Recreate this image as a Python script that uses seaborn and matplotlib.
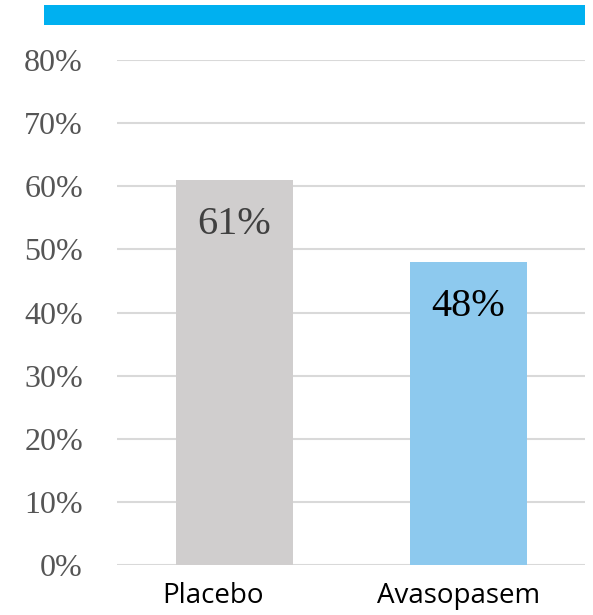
import matplotlib
matplotlib.use("Agg")
import matplotlib.pyplot as plt
from matplotlib.patches import Rectangle
from matplotlib.transforms import ScaledTranslation
import seaborn as sns
import pandas as pd

groups = ["Placebo", "Avasopasem"]
rates = [0.61, 0.48]
rate_labels = ["61%", "48%"]
label_colors = ["#404040", "#000000"]
bar_colors = ["#D0CECE", "#8DC9EE"]
yticks = [0.0, 0.1, 0.2, 0.3, 0.4, 0.5, 0.6, 0.7, 0.8]
ytick_labels = ["0%", "10%", "20%", "30%", "40%", "50%", "60%", "70%", "80%"]

df = pd.DataFrame({"group": groups, "rate": rates})

sns.set_style("white")
W, H = 593, 615
fig = plt.figure(figsize=(W / 100, H / 100), dpi=100)
ax = fig.add_axes([117 / W, (H - 565) / H, (585 - 117) / W, (565 - 60) / H])

sns.barplot(data=df, x="group", y="rate", hue="group", palette=bar_colors,
            saturation=1, width=0.5, linewidth=0, legend=False, ax=ax,
            zorder=3)

ax.set_xlim(-0.5, 1.5)
ax.set_ylim(0, 0.8)
ax.set_yticks(yticks)
ax.set_yticklabels(ytick_labels, family="Liberation Serif", fontsize=23,
                   color="#555555")
ax.set_xticks(range(len(groups)))
ax.set_xticklabels(groups, family="Open Sans", fontsize=20, color="#000000")
ax.tick_params(axis="y", length=0, pad=24.5)
ax.tick_params(axis="x", length=0, pad=12)
ax.set_xlabel("")
ax.set_ylabel("")
ax.grid(axis="y", color="#D9D9D9", linewidth=1.5, zorder=0)
ax.set_axisbelow(True)
for s in ax.spines.values():
    s.set_visible(False)

# category labels sit slightly left of the bar centres
for lbl, dx in zip(ax.get_xticklabels(), [-0.21, -0.09]):
    lbl.set_transform(lbl.get_transform()
                      + ScaledTranslation(dx, 0, fig.dpi_scale_trans))

for patch, txt, col in zip(ax.patches, rate_labels, label_colors):
    x = patch.get_x() + patch.get_width() / 2
    ax.annotate(txt, (x, patch.get_height()), xytext=(0, -32),
                textcoords="offset points", ha="center", va="center",
                family="Liberation Serif", fontsize=29, color=col, zorder=4)

# header band across the top
fig.add_artist(Rectangle((44 / W, (H - 25) / H), (585 - 44) / W, 20 / H,
                         transform=fig.transFigure, color="#00B0F0", lw=0))

fig.savefig("out.png", dpi=100)
